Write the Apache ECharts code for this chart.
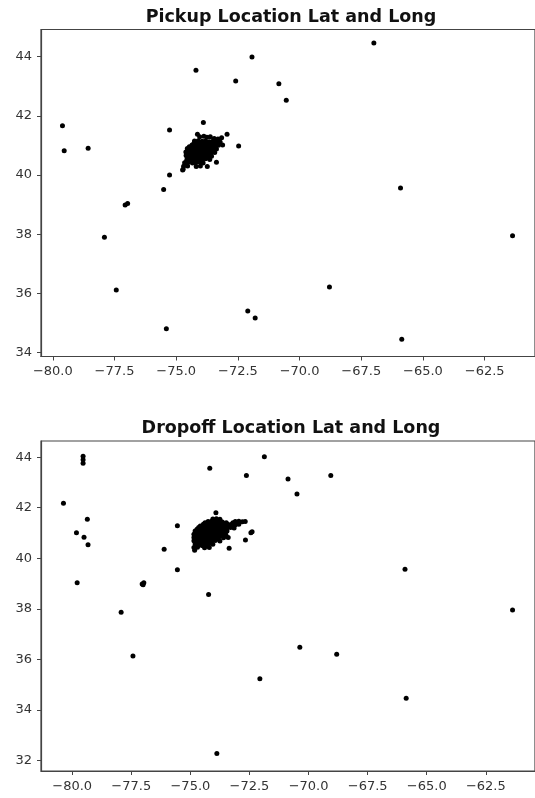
<!DOCTYPE html>
<html>
<head>
<meta charset="utf-8">
<title>Pickup and Dropoff Location Lat and Long</title>
<script src="https://cdn.jsdelivr.net/npm/echarts@6/dist/echarts.min.js"></script>
<style>
  html, body { margin: 0; padding: 0; background: #fff; }
  #chart { width: 535px; height: 798px; }
</style>
</head>
<body>
<div id="chart"></div>
<script>
// pickup outliers + dense NYC cluster
var pickupLon = [
  -79.61, -79.54, -78.57, -75.27, -75.27, -75.51, -74.74, -77.07, -76.97, -77.91,
  -73.90, -72.94, -72.47, -73.37, -73.74, -74.14,
  -66.99, -71.93, -74.20, -72.59, -70.84, -70.54,
  -65.91, -61.37, -65.86, -77.43, -68.79, -72.10, -71.80, -75.40,
  // cluster
  -74.05, -73.88, -73.76, -73.62,
  -73.46, -73.31, -73.16,
  -74.26, -74.11, -73.95, -73.81, -73.66, -73.50, -73.36, -73.22,
  -74.36, -74.21, -74.04, -73.91, -73.74, -73.60, -73.44, -73.29, -73.12,
  -74.55, -74.41, -74.26, -74.09, -73.96, -73.79, -73.66, -73.51, -73.37,
  -74.61, -74.46, -74.29, -74.16, -74.01, -73.86, -73.71, -73.56, -73.44,
  -74.60, -74.44, -74.31, -74.14, -74.00, -73.84, -73.70, -73.57,
  -74.56, -74.40, -74.26, -74.09, -73.95, -73.81, -73.64,
  -74.66, -74.50, -74.34, -74.21, -74.04, -73.91,
  -74.70, -74.54, -74.19, -74.02,
  -74.72,
  // cluster core, in between the rows above
  -74.28, -74.13, -73.98, -73.83, -73.68, -73.53, -73.38,
  -74.47, -74.32, -74.17, -74.02, -73.87, -73.72, -73.57, -73.42,
  -74.52, -74.37, -74.22, -74.07, -73.92, -73.77, -73.62, -73.48,
  -74.53, -74.38, -74.23, -74.08, -73.93, -73.78, -73.63,
  -74.52, -74.37, -74.22, -74.07, -73.92, -73.77,
  -74.58, -74.43, -74.28, -74.13, -73.98
];
var pickupLat = [
  41.67, 40.82, 40.91, 41.52, 40.00, 39.51, 40.17, 38.99, 39.04, 37.90,
  41.78, 41.38, 40.98, 40.43, 40.29, 41.38,
  44.46, 43.99, 43.54, 43.18, 43.09, 42.53,
  39.56, 37.95, 34.45, 36.12, 36.22, 35.41, 35.17, 34.81,
  // cluster
  41.30, 41.31, 41.28, 41.30,
  41.24, 41.22, 41.26,
  41.15, 41.16, 41.14, 41.15, 41.13, 41.16, 41.14, 41.12,
  41.02, 41.03, 41.01, 41.03, 41.02, 41.00, 41.03, 41.01, 41.02,
  40.90, 40.91, 40.89, 40.90, 40.92, 40.89, 40.90, 40.91, 40.88,
  40.78, 40.77, 40.79, 40.78, 40.76, 40.78, 40.79, 40.77, 40.76,
  40.66, 40.67, 40.65, 40.66, 40.68, 40.65, 40.66, 40.64,
  40.54, 40.53, 40.55, 40.54, 40.52, 40.55, 40.53,
  40.42, 40.43, 40.41, 40.42, 40.44, 40.41,
  40.30, 40.31, 40.29, 40.31,
  40.20,
  // cluster core
  41.08, 41.09, 41.07, 41.08, 41.09, 41.07, 41.08,
  40.96, 40.97, 40.95, 40.96, 40.97, 40.95, 40.96, 40.95,
  40.84, 40.85, 40.83, 40.84, 40.85, 40.83, 40.84, 40.83,
  40.72, 40.73, 40.71, 40.72, 40.73, 40.71, 40.72,
  40.60, 40.61, 40.59, 40.60, 40.61, 40.59,
  40.48, 40.49, 40.47, 40.48, 40.49
];

var dropoffLon = [
  -79.54, -79.54, -79.54, -80.37, -79.36, -79.82, -79.50, -79.33, -79.79,
  -77.04, -76.97, -77.00, -75.55, -76.11, -75.55,
  -71.87, -74.18, -72.63, -70.87, -69.06, -70.49, -73.92,
  -72.44, -72.67, -72.39, -73.36,
  -65.92, -74.23, -77.93, -77.43, -73.88, -72.06, -70.37, -68.81, -65.87, -61.37,
  // cluster
  -74.05, -73.90, -73.75,
  -74.25, -74.10, -73.95, -73.80, -73.65, -73.10, -72.95, -72.80, -72.68,
  -74.45, -74.30, -74.15, -74.00, -73.85, -73.70, -73.55, -73.40, -73.25, -73.10, -72.95,
  -74.65, -74.50, -74.35, -74.20, -74.05, -73.90, -73.75, -73.60, -73.45, -73.30, -73.15,
  -74.80, -74.65, -74.50, -74.35, -74.20, -74.05, -73.90, -73.75, -73.60, -73.45,
  -74.85, -74.70, -74.55, -74.40, -74.25, -74.10, -73.95, -73.80, -73.65, -73.50,
  -74.85, -74.70, -74.55, -74.40, -74.25, -74.10, -73.95, -73.80, -73.60, -73.40,
  -74.85, -74.70, -74.55, -74.40, -74.25, -74.10, -73.95, -73.75,
  -74.80, -74.65, -74.50, -74.35, -74.20, -74.05,
  -74.85, -74.70, -74.40, -74.20,
  -74.82,
  // cluster core, in between the rows above
  -74.38, -74.23, -74.08, -73.93, -73.78, -73.63, -73.48, -73.20, -73.02,
  -74.58, -74.43, -74.28, -74.13, -73.98, -73.83, -73.68, -73.53, -73.38, -73.22,
  -74.72, -74.57, -74.42, -74.27, -74.12, -73.97, -73.82, -73.67, -73.52,
  -74.78, -74.63, -74.48, -74.33, -74.18, -74.03, -73.88, -73.73, -73.58,
  -74.78, -74.63, -74.48, -74.33, -74.18, -74.03, -73.88, -73.72, -73.52,
  -74.78, -74.63, -74.48, -74.33, -74.18, -74.03, -73.88,
  -74.73, -74.58, -74.43, -74.28, -74.13,
  -74.78, -74.63, -74.48, -74.30
];
var dropoffLat = [
  44.04, 43.90, 43.76, 42.18, 41.54, 41.01, 40.83, 40.53, 39.03,
  38.98, 39.03, 38.95, 41.29, 40.36, 39.54,
  44.02, 43.56, 43.27, 43.14, 43.27, 42.54, 41.80,
  41.01, 40.72, 41.05, 40.40,
  39.56, 38.57, 37.86, 36.13, 32.27, 35.23, 36.48, 36.20, 34.46, 37.95,
  // cluster
  41.55, 41.56, 41.54,
  41.45, 41.46, 41.44, 41.45, 41.43, 41.45, 41.46, 41.44, 41.45,
  41.35, 41.34, 41.36, 41.35, 41.33, 41.35, 41.36, 41.34, 41.35, 41.33, 41.35,
  41.22, 41.23, 41.21, 41.22, 41.24, 41.21, 41.22, 41.23, 41.21, 41.22, 41.20,
  41.08, 41.09, 41.07, 41.08, 41.10, 41.07, 41.08, 41.09, 41.07, 41.08,
  40.95, 40.94, 40.96, 40.95, 40.93, 40.95, 40.96, 40.94, 40.95, 40.93,
  40.82, 40.83, 40.81, 40.82, 40.84, 40.81, 40.82, 40.83, 40.81, 40.82,
  40.69, 40.68, 40.70, 40.69, 40.67, 40.69, 40.70, 40.68,
  40.56, 40.57, 40.55, 40.56, 40.58, 40.55,
  40.43, 40.44, 40.42, 40.43,
  40.32,
  // cluster core
  41.40, 41.41, 41.39, 41.40, 41.41, 41.39, 41.40, 41.40, 41.41,
  41.28, 41.29, 41.27, 41.28, 41.29, 41.27, 41.28, 41.29, 41.27, 41.28,
  41.15, 41.16, 41.14, 41.15, 41.16, 41.14, 41.15, 41.16, 41.14,
  41.02, 41.03, 41.01, 41.02, 41.03, 41.01, 41.02, 41.03, 41.01,
  40.88, 40.89, 40.87, 40.88, 40.89, 40.87, 40.88, 40.89, 40.87,
  40.75, 40.76, 40.74, 40.75, 40.76, 40.74, 40.75,
  40.62, 40.63, 40.61, 40.62, 40.63,
  40.50, 40.51, 40.49, 40.50
];

var lonTicks = [-80, -77.5, -75, -72.5, -70, -67.5, -65, -62.5];
var pickupLatTicks = [34, 36, 38, 40, 42, 44];
var dropoffLatTicks = [32, 34, 36, 38, 40, 42, 44];

function pairs(xs, ys) {
  var out = [];
  for (var i = 0; i < xs.length; i++) {
    out.push([xs[i], ys[i]]);
  }
  return out;
}

function fmt(v, digits) {
  return v.toFixed(digits).replace('-', '\u2212');
}

var axisColor = '#444';
var labelStyle = { color: '#333', fontSize: 13, fontFamily: 'DejaVu Sans' };

function xAxisOpt(idx, min, max) {
  return {
    type: 'value', gridIndex: idx, min: min, max: max,
    axisLine: { show: true, onZero: false, lineStyle: { color: axisColor, width: 1.2 } },
    axisTick: { show: true, length: 4, customValues: lonTicks, lineStyle: { color: axisColor } },
    axisLabel: Object.assign({ margin: 9, customValues: lonTicks,
      formatter: function (v) { return fmt(v, 1); } }, labelStyle),
    splitLine: { show: false }
  };
}

function yAxisOpt(idx, min, max, ticks) {
  return {
    type: 'value', gridIndex: idx, min: min, max: max,
    axisLine: { show: true, onZero: false, lineStyle: { color: axisColor, width: 1.2 } },
    axisTick: { show: true, length: 4, customValues: ticks, lineStyle: { color: axisColor } },
    axisLabel: Object.assign({ margin: 9, customValues: ticks,
      formatter: function (v) { return fmt(v, 0); } }, labelStyle),
    splitLine: { show: false }
  };
}

var myChart = echarts.init(document.getElementById('chart'), null, { renderer: 'canvas' });

var titleStyle = { color: '#111', fontSize: 17.5, fontWeight: 'bold', fontFamily: 'DejaVu Sans' };

var option = {
  backgroundColor: '#fff',
  animation: false,
  title: [
    { text: 'Pickup Location Lat and Long', left: 291, top: 8, textAlign: 'center', padding: 0, textStyle: titleStyle },
    { text: 'Dropoff Location Lat and Long', left: 291, top: 419, textAlign: 'center', padding: 0, textStyle: titleStyle }
  ],
  grid: [
    { left: 41, top: 29.5, width: 501, height: 327, show: true, borderColor: axisColor, borderWidth: 1.2, backgroundColor: 'transparent' },
    { left: 41, top: 441, width: 501, height: 330, show: true, borderColor: axisColor, borderWidth: 1.2, backgroundColor: 'transparent' }
  ],
  xAxis: [
    xAxisOpt(0, -80.48, -60.46),
    xAxisOpt(1, -81.32, -60.42)
  ],
  yAxis: [
    yAxisOpt(0, 33.87, 44.92, pickupLatTicks),
    yAxisOpt(1, 31.58, 44.64, dropoffLatTicks)
  ],
  series: [
    {
      name: 'Pickup', type: 'scatter', xAxisIndex: 0, yAxisIndex: 0,
      symbolSize: 5, itemStyle: { color: '#000', opacity: 1 },
      data: pairs(pickupLon, pickupLat)
    },
    {
      name: 'Dropoff', type: 'scatter', xAxisIndex: 1, yAxisIndex: 1,
      symbolSize: 5, itemStyle: { color: '#000', opacity: 1 },
      data: pairs(dropoffLon, dropoffLat)
    }
  ]
};

myChart.setOption(option);
window.addEventListener('resize', myChart.resize);
</script>
</body>
</html>
